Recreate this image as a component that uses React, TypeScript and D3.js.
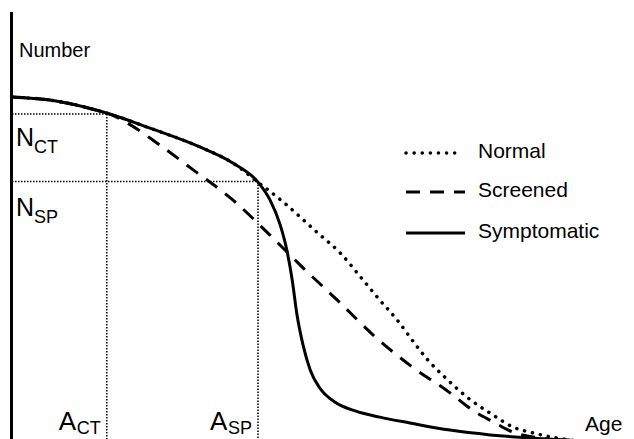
import React, { useEffect, useRef } from "react";
import * as d3 from "d3";

// shared part of the curves, from age 0 up to A_SP
const commonAge = [0, 6.3, 15.2, 23, 31.3, 36.8, 41];
const commonNum = [100, 99.1, 95.6, 90.9, 85.4, 80.7, 75.1];

const normalAge = [45.2, 50.8, 54.7, 58.5, 61.3, 64.2, 66.7, 69.3, 72.3, 75.8, 80.2, 83.5, 86.8, 90.8, 94];
const normalNum = [69.3, 60.5, 54.4, 46.5, 40.6, 34.8, 28.9, 23.1, 17.8, 12.3, 7.0, 3.5, 1.8, 0.3, -0.5];

const screenedAge = [0, 6.3, 15.2, 15.8, 19.2, 24.2, 30.2, 36.8, 43, 48, 54.7, 60.2, 66.3, 73, 76.7, 80.2, 83.5, 86.8, 90.5];
const screenedNum = [100, 99.1, 95.6, 95.3, 92.4, 86.5, 78.7, 69.9, 59.6, 50.9, 39.8, 30.4, 21.6, 13.5, 8.5, 5.0, 2.0, 0.6, -0.3];

const sympAge = [43, 44.7, 45.8, 46.7, 47.5, 48.5, 49.7, 51.3, 53.8, 57.2, 61.3, 66.3, 73, 79.7, 86.3, 93];
const sympNum = [69.9, 62.6, 55.3, 46.5, 36.3, 27.5, 20.2, 14.9, 10.8, 8.2, 6.4, 4.7, 2.6, 1.2, 0.3, -0.3];

const aCT = 15.8, aSP = 41;
const nCT = 95.0, nSP = 75.3;

const legendLabels = ["Normal", "Screened", "Symptomatic"];

const App = () => {
  const svgRef = useRef<SVGSVGElement>(null);

  useEffect(() => {
    const width = 634, height = 439;
    const font = "'Liberation Sans', Arial, sans-serif";

    const x = d3.scaleLinear().domain([0, 100]).range([12, 612]);
    const y = d3.scaleLinear().domain([0, 100]).range([439, 97]);

    const svg = d3.select(svgRef.current)
      .attr("width", width)
      .attr("height", height)
      .style("background", "#fff");
    svg.selectAll("*").remove();

    const zip = (a: number[], b: number[]) => a.map((v, i) => [v, b[i]] as [number, number]);
    const common = zip(commonAge, commonNum);
    const normal = common.concat(zip(normalAge, normalNum));
    const screened = zip(screenedAge, screenedNum);
    const symp = common.concat(zip(sympAge, sympNum));

    const line = d3.line<[number, number]>()
      .x(d => x(d[0]))
      .y(d => y(d[1]))
      .curve(d3.curveMonotoneX);

    // guide lines
    const guide = (x1: number, y1: number, x2: number, y2: number) =>
      svg.append("line")
        .attr("x1", x1).attr("y1", y1).attr("x2", x2).attr("y2", y2)
        .attr("stroke", "#000")
        .attr("stroke-width", 1.5)
        .attr("stroke-dasharray", "1.5,1.5");
    guide(x(0), y(nCT), x(aCT), y(nCT));
    guide(x(0), y(nSP), x(aSP), y(nSP));
    guide(x(aCT), y(nCT), x(aCT), height);
    guide(x(aSP), y(nSP), x(aSP), height);

    // curves
    svg.append("path").attr("d", line(symp))
      .attr("fill", "none").attr("stroke", "#000").attr("stroke-width", 3);
    svg.append("path").attr("d", line(normal))
      .attr("fill", "none").attr("stroke", "#000").attr("stroke-width", 3.5)
      .attr("stroke-linecap", "round")
      .attr("stroke-dasharray", "0.1,8");
    svg.append("path").attr("d", line(screened))
      .attr("fill", "none").attr("stroke", "#000").attr("stroke-width", 3)
      .attr("stroke-dasharray", "14,10");

    // y axis
    svg.append("line")
      .attr("x1", x(0) - 0.5).attr("x2", x(0) - 0.5)
      .attr("y1", 12).attr("y2", height)
      .attr("stroke", "#000").attr("stroke-width", 3);

    const text = (tx: number, ty: number, s: string, size: number) =>
      svg.append("text")
        .attr("x", tx).attr("y", ty)
        .attr("font-family", font)
        .attr("font-size", size)
        .attr("fill", "#000")
        .text(s);

    text(19, 57, "Number", 20);
    text(585, 431, "Age", 21);

    // labels with subscripts
    text(16, 146, "N", 25);
    text(34, 153, "CT", 18);
    text(16, 216, "N", 25);
    text(34, 223, "SP", 18);
    text(x(aCT) - 48, 430, "A", 26);
    text(x(aCT) - 30, 434, "CT", 18);
    text(x(aSP) - 48, 430, "A", 26);
    text(x(aSP) - 30, 434, "SP", 18);

    // legend
    const legendY = [153, 192, 233];
    const styles = [
      { w: 3.5, dash: "0.1,8", cap: "round", x2: 458 },
      { w: 3, dash: "14,10", cap: "butt", x2: 465 },
      { w: 3, dash: null, cap: "butt", x2: 465 },
    ];
    legendLabels.forEach((lab, i) => {
      svg.append("line")
        .attr("x1", 406).attr("x2", styles[i].x2)
        .attr("y1", legendY[i]).attr("y2", legendY[i])
        .attr("stroke", "#000")
        .attr("stroke-width", styles[i].w)
        .attr("stroke-linecap", styles[i].cap)
        .attr("stroke-dasharray", styles[i].dash);
      text(478, legendY[i] + 5, lab, 21);
    });
  }, []);

  return <svg ref={svgRef} style={{ position: "absolute", left: 0, top: 0 }}></svg>;
};

export default App;
